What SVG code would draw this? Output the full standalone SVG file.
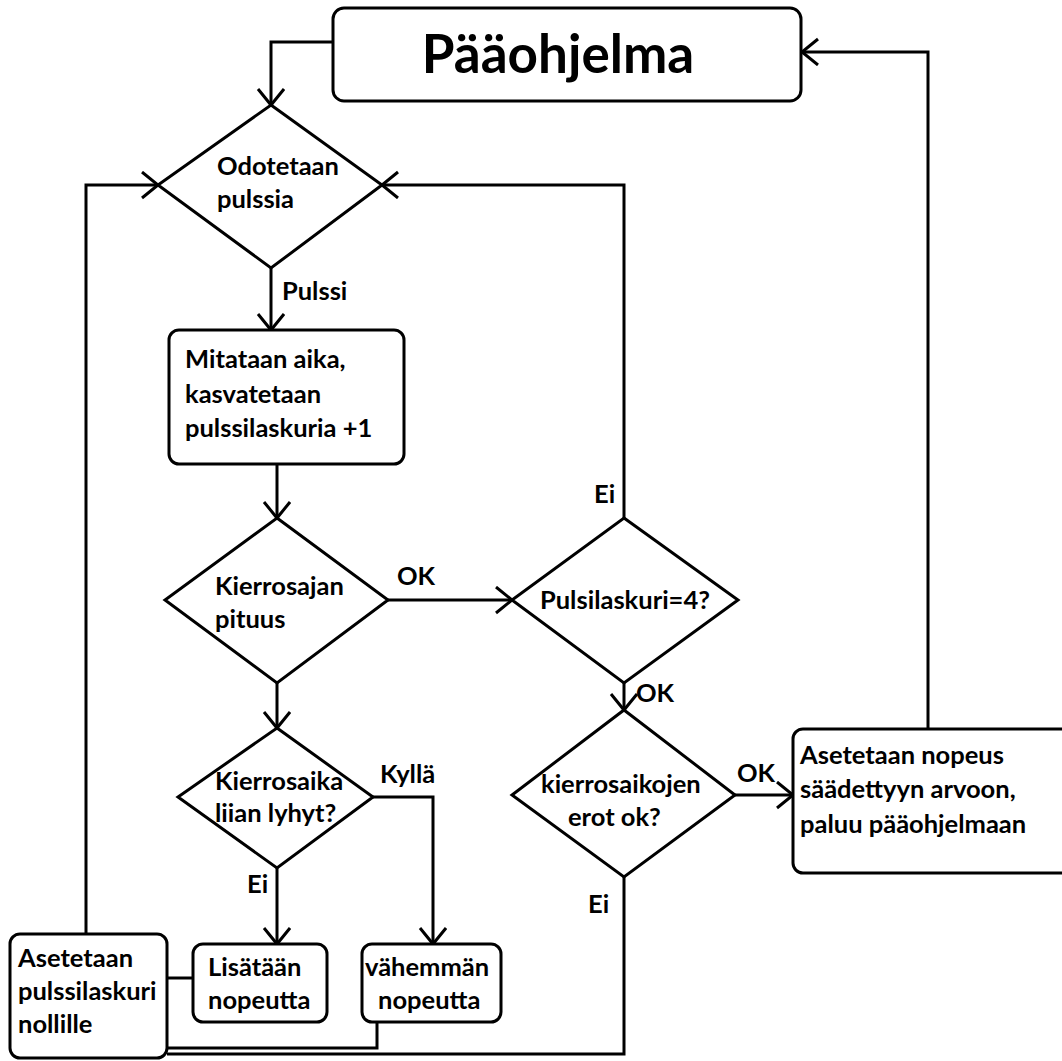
<svg xmlns="http://www.w3.org/2000/svg" width="1062" height="1061" viewBox="0 0 1062 1061">
<style>
.s{fill:#fff;stroke:#000;stroke-width:3;stroke-linejoin:miter}
.c{fill:none;stroke:#000;stroke-width:3}
.t{font-family:Lato,"Open Sans",sans-serif;font-weight:bold;font-size:25.5px;fill:#000}
.big{font-size:53px}
</style>
<defs>
<marker id="a" markerUnits="userSpaceOnUse" markerWidth="20" markerHeight="30" refX="17" refY="14" orient="auto">
<path d="M1,1 L17,14 L1,27" fill="none" stroke="#000" stroke-width="3"/>
</marker>
</defs>
<rect width="1062" height="1061" fill="#fff"/>
<g id="connectors">
<path class="c" d="M333,42 H271 V105" marker-end="url(#a)"/>
<path class="c" d="M271,268 V330" marker-end="url(#a)"/>
<path class="c" d="M277,465 V518" marker-end="url(#a)"/>
<path class="c" d="M388,600 H512" marker-end="url(#a)"/>
<path class="c" d="M277,683 V728" marker-end="url(#a)"/>
<path class="c" d="M624,518 V185 H382" marker-end="url(#a)"/>
<path class="c" d="M624,683 V710" marker-end="url(#a)"/>
<path class="c" d="M735,795 H793" marker-end="url(#a)"/>
<path class="c" d="M928,729 V52 H802" marker-end="url(#a)"/>
<path class="c" d="M373,797 H433 V944" marker-end="url(#a)"/>
<path class="c" d="M277,868 V944" marker-end="url(#a)"/>
<path class="c" d="M86,934 V185 H158" marker-end="url(#a)"/>
<path class="c" d="M193,978 H167"/>
<path class="c" d="M377,1022 V1048 H167"/>
<path class="c" d="M624,877 V1054 H167"/>
</g>
<g id="paaohjelma">
<rect class="s" x="333" y="8" width="468" height="93" rx="11"/>
<text class="t big" x="558" y="73" text-anchor="middle">Pääohjelma</text>
</g>
<g id="odotetaan">
<polygon class="s" points="271,105 382,185 271,268 158,185"/>
<text class="t" x="217" y="175">Odotetaan</text>
<text class="t" x="217" y="208">pulssia</text>
</g>
<text class="t" x="282" y="300">Pulssi</text>
<g id="mitataan">
<rect class="s" x="169" y="330" width="235" height="134" rx="10"/>
<text class="t" x="185" y="368">Mitataan aika,</text>
<text class="t" x="185" y="403">kasvatetaan</text>
<text class="t" x="185" y="437">pulssilaskuria +1</text>
</g>
<g id="kierrosajan">
<polygon class="s" points="277,518 388,600 277,683 165,600"/>
<text class="t" x="215" y="595">Kierrosajan</text>
<text class="t" x="215" y="628">pituus</text>
</g>
<text class="t" x="397" y="585">OK</text>
<g id="pulsilaskuri">
<polygon class="s" points="624,518 738,600 624,683 512,600"/>
<text class="t" x="540" y="609">Pulsilaskuri=4?</text>
</g>
<text class="t" x="594" y="503">Ei</text>
<text class="t" x="636" y="702">OK</text>
<g id="kierrosaikojen">
<polygon class="s" points="624,710 735,795 624,877 512,795"/>
<text class="t" x="541" y="793">kierrosaikojen</text>
<text class="t" x="568" y="826">erot ok?</text>
</g>
<text class="t" x="737" y="782">OK</text>
<text class="t" x="588" y="913">Ei</text>
<g id="asetetaan-nopeus">
<rect class="s" x="793" y="729" width="290" height="144" rx="10"/>
<text class="t" x="800" y="764">Asetetaan nopeus</text>
<text class="t" x="800" y="798">säädettyyn arvoon,</text>
<text class="t" x="800" y="833">paluu pääohjelmaan</text>
</g>
<g id="kierrosaika">
<polygon class="s" points="277,728 373,797 277,868 178,797"/>
<text class="t" x="215" y="790">Kierrosaika</text>
<text class="t" x="215" y="822">liian lyhyt?</text>
</g>
<text class="t" x="380" y="783">Kyllä</text>
<text class="t" x="247" y="893">Ei</text>
<g id="asetetaan-pulssilaskuri">
<rect class="s" x="10" y="934" width="157" height="124" rx="10"/>
<text class="t" x="18" y="967">Asetetaan</text>
<text class="t" x="18" y="1000">pulssilaskuri</text>
<text class="t" x="18" y="1033">nollille</text>
</g>
<g id="lisataan">
<rect class="s" x="193" y="944" width="134" height="78" rx="10"/>
<text class="t" x="208" y="976">Lisätään</text>
<text class="t" x="208" y="1009">nopeutta</text>
</g>
<g id="vahemman">
<rect class="s" x="362" y="944" width="139" height="78" rx="10"/>
<text class="t" x="365" y="976">vähemmän</text>
<text class="t" x="378" y="1009">nopeutta</text>
</g>
</svg>
